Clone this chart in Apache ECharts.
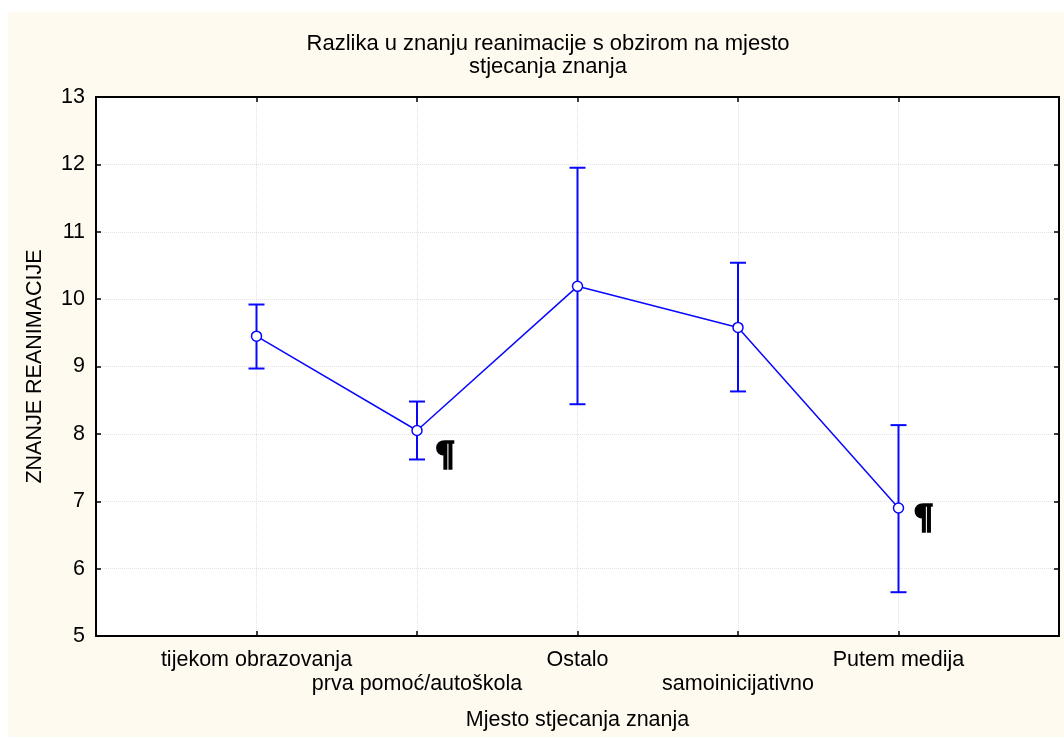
<!DOCTYPE html>
<html>
<head>
<meta charset="utf-8">
<script src="https://cdn.jsdelivr.net/npm/echarts@6/dist/echarts.min.js"></script>
<style>
html,body{margin:0;padding:0;background:#ffffff;}
#chart{width:1064px;height:738px;}
</style>
</head>
<body>
<div id="chart"></div>
<script>
const categories = ['tijekom obrazovanja', 'prva pomoć/autoškola', 'Ostalo', 'samoinicijativno', 'Putem medija'];
const means = [9.45, 8.05, 10.19, 9.58, 6.9];
const lowerCI = [8.97, 7.62, 8.44, 8.63, 5.65];
const upperCI = [9.92, 8.48, 11.95, 10.54, 8.13];
const markedIdx = [1, 4];
const markText = '¶';
const yTicks = {min: 5, max: 13, interval: 1};

const FONT = '"Liberation Sans", Arial, sans-serif';
const FS = 21.5;
const BLUE = '#0808ff';

const pointData = categories.map((c, i) => {
  const item = {value: [i + 1, means[i]]};
  if (markedIdx.includes(i)) {
    item.label = {
      show: true,
      formatter: markText,
      position: 'inside',
      offset: i === 1 ? [28, 27] : [25, 12],
      fontFamily: '"DejaVu Serif", serif',
      fontWeight: 'bold',
      fontSize: 33,
      color: '#000',
      textBorderColor: '#000',
      textBorderWidth: 1.6
    };
  }
  return item;
});
const errData = categories.map((c, i) => [i + 1, lowerCI[i], upperCI[i]]);

const chart = echarts.init(document.getElementById('chart'), null, {renderer: 'canvas'});
const option = {
  backgroundColor: '#ffffff',
  animation: false,
  graphic: [{
    type: 'rect', z: -10, silent: true,
    shape: {x: 8, y: 12, width: 1056, height: 725},
    style: {fill: '#fffaf0'}
  }],
  title: {
    text: 'Razlika u znanju reanimacije s obzirom na mjesto\nstjecanja znanja',
    left: 543, top: 27, textAlign: 'center',
    textStyle: {fontFamily: FONT, fontSize: 22, fontWeight: 'normal', color: '#000', lineHeight: 23}
  },
  grid: {left: 96, right: 5, top: 97, bottom: 102, show: true, backgroundColor: '#ffffff', borderWidth: 0},
  xAxis: [{
    type: 'value', min: 0, max: categories.length + 1, interval: 1,
    name: 'Mjesto stjecanja znanja', nameLocation: 'middle', nameGap: 73,
    nameTextStyle: {fontFamily: FONT, fontSize: FS, color: '#000'},
    axisLine: {show: true, onZero: false, lineStyle: {color: '#000', width: 2}},
    axisTick: {show: true, inside: true, length: 5, lineStyle: {color: '#000', width: 1.5}},
    splitLine: {show: true, lineStyle: {color: '#e2e2e2', type: 'dotted', width: 1}},
    axisLabel: {
      fontFamily: FONT, fontSize: FS, color: '#000', margin: 12, lineHeight: 24,
      showMinLabel: true, showMaxLabel: true,
      formatter: v => {
        const i = Math.round(v) - 1;
        if (i < 0 || i >= categories.length) return '';
        return i % 2 === 1 ? '\n' + categories[i] : categories[i];
      }
    }
  }, {
    type: 'value', position: 'top', min: 0, max: categories.length + 1, interval: 1,
    axisLine: {show: true, onZero: false, lineStyle: {color: '#000', width: 2}},
    axisTick: {show: true, inside: true, length: 5, lineStyle: {color: '#000', width: 1.5}},
    splitLine: {show: false}, axisLabel: {show: false}
  }],
  yAxis: [{
    type: 'value', min: yTicks.min, max: yTicks.max, interval: yTicks.interval,
    name: 'ZNANJE REANIMACIJE', nameLocation: 'middle', nameGap: 50,
    nameTextStyle: {fontFamily: FONT, fontSize: FS, color: '#000'},
    axisLine: {show: true, onZero: false, lineStyle: {color: '#000', width: 2}},
    axisTick: {show: true, inside: true, length: 5, lineStyle: {color: '#000', width: 1.5}},
    splitLine: {show: true, lineStyle: {color: '#e2e2e2', type: 'dotted', width: 1}},
    axisLabel: {fontFamily: FONT, fontSize: FS, color: '#000', margin: 11}
  }, {
    type: 'value', position: 'right', min: yTicks.min, max: yTicks.max, interval: yTicks.interval,
    axisLine: {show: true, onZero: false, lineStyle: {color: '#000', width: 2}},
    axisTick: {show: true, inside: true, length: 5, lineStyle: {color: '#000', width: 1.5}},
    splitLine: {show: false}, axisLabel: {show: false}
  }],
  series: [{
    type: 'custom', z: 2,
    xAxisIndex: 0, yAxisIndex: 0,
    data: errData,
    encode: {x: 0, y: [1, 2]},
    renderItem: (params, api) => {
      const x = api.value(0);
      const top = api.coord([x, api.value(2)]);
      const bot = api.coord([x, api.value(1)]);
      const w = 8;
      const st = {stroke: BLUE, lineWidth: 2};
      return {type: 'group', children: [
        {type: 'line', shape: {x1: top[0], y1: top[1], x2: bot[0], y2: bot[1]}, style: st},
        {type: 'line', shape: {x1: top[0] - w, y1: top[1], x2: top[0] + w, y2: top[1]}, style: st},
        {type: 'line', shape: {x1: bot[0] - w, y1: bot[1], x2: bot[0] + w, y2: bot[1]}, style: st}
      ]};
    }
  }, {
    type: 'line', z: 3,
    xAxisIndex: 0, yAxisIndex: 0,
    data: pointData,
    symbol: 'circle', symbolSize: 10,
    lineStyle: {color: BLUE, width: 1.5},
    itemStyle: {color: '#ffffff', borderColor: BLUE, borderWidth: 1.5},
    label: {show: false}
  }]
};
chart.setOption(option);
</script>
</body>
</html>
